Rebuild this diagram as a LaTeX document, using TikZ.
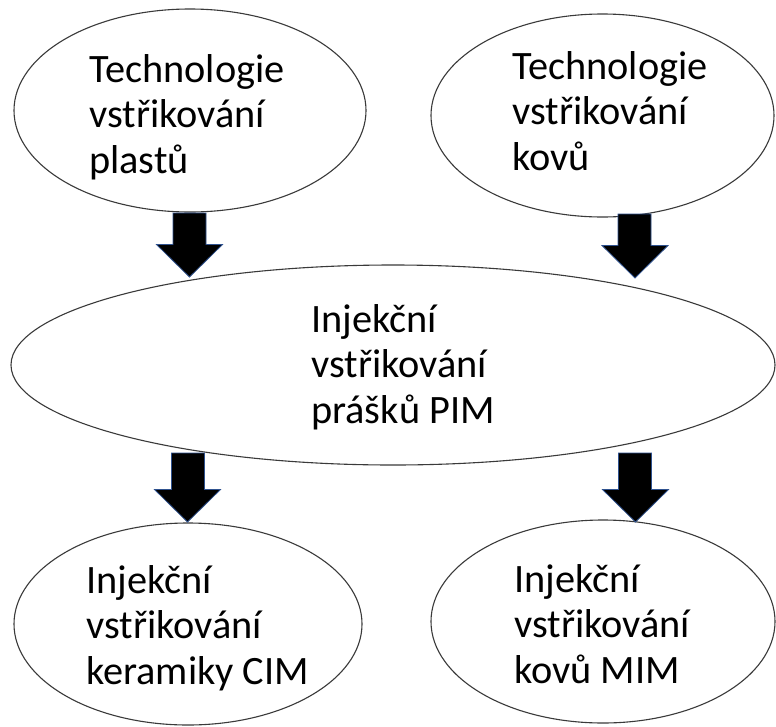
\documentclass[tikz,border=0pt]{standalone}
\usepackage{fontspec}
\setmainfont{Carlito}
\usetikzlibrary{shapes.geometric,calc}
\definecolor{arrowedge}{HTML}{2F528F}
\definecolor{lineclr}{HTML}{3A3A3A}
\newcommand\blockarr[2]{%
  \draw[blockarrow] let \p1=(#1), \p2=(#2) in
    ({\x1-16.5pt},\y1) -- ({\x1+16.5pt},\y1) -- ({\x1+16.5pt},{\y2+32.5pt})
    -- ({\x2+33pt},{\y2+32.5pt}) -- (\x2,\y2) -- ({\x2-33pt},{\y2+32.5pt})
    -- ({\x1-16.5pt},{\y2+32.5pt}) -- cycle;}
\begin{document}
\begin{tikzpicture}[x=1pt,y=-1pt,
  bubble/.style={ellipse, draw=lineclr, line width=1.1pt, fill=white, inner sep=0pt},
  lbl/.style={anchor=base west, inner sep=0pt, font=\fontsize{40.3pt}{45.5pt}\selectfont, text=black},
  blockarrow/.style={fill=black, draw=arrowedge, line width=0.8pt, line join=miter}]
\fill[white] (0,0) rectangle (776,726);
\useasboundingbox (0,0) rectangle (776,726);
% ellipses
\node[bubble, minimum width=352pt, minimum height=203pt] (tl) at (190,110.5) {};
\node[bubble, minimum width=343pt, minimum height=203pt] (tr) at (602.5,115.5) {};
\node[bubble, minimum width=764pt, minimum height=200pt] (mid) at (393,365) {};
\node[bubble, minimum width=348pt, minimum height=202pt] (bl) at (188,624) {};
\node[bubble, minimum width=344pt, minimum height=203pt] (br) at (603,621.5) {};
% labels
\node[lbl] (tlt) at (89,82) {\begin{tabular}[t]{@{}l@{}}Technologie\\vstřikování\\plastů\end{tabular}};
\node[lbl] (trt) at (512,79) {\begin{tabular}[t]{@{}l@{}}Technologie\\vstřikování\\kovů\end{tabular}};
\node[lbl] (midt) at (311,332) {\begin{tabular}[t]{@{}l@{}}Injekční\\vstřikování\\prášků PIM\end{tabular}};
\node[lbl] (blt) at (86,593) {\begin{tabular}[t]{@{}l@{}}Injekční\\vstřikování\\keramiky CIM\end{tabular}};
\node[lbl] (brt) at (514,592) {\begin{tabular}[t]{@{}l@{}}Injekční\\vstřikování\\kovů MIM\end{tabular}};
% arrows
\coordinate (a1s) at (189.5,213); \coordinate (a1e) at (189.5,277);
\coordinate (a2s) at (634.5,214); \coordinate (a2e) at (635,278);
\coordinate (a3s) at (188,453);   \coordinate (a3e) at (187.5,522);
\coordinate (a4s) at (635,453);   \coordinate (a4e) at (635.5,522);
\blockarr{a1s}{a1e}
\blockarr{a2s}{a2e}
\blockarr{a3s}{a3e}
\blockarr{a4s}{a4e}
\end{tikzpicture}
\end{document}
